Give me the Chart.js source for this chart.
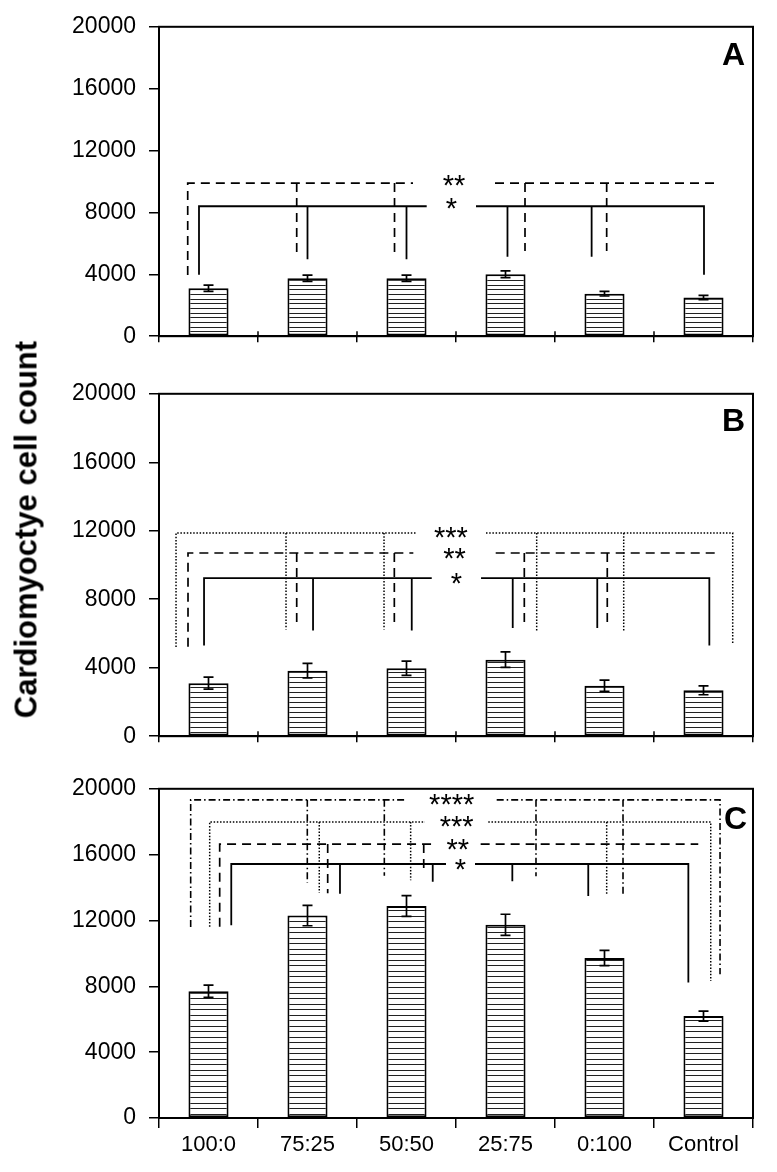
<!DOCTYPE html>
<html><head><meta charset="utf-8">
<script src="https://cdn.jsdelivr.net/npm/chart.js@4"></script>
<style>
html,body{margin:0;padding:0;background:#fff;}
body{width:777px;height:1172px;position:relative;overflow:hidden;}
canvas{position:absolute;left:0;}
#ytitle{position:absolute;left:-223.6px;top:511.5px;width:500px;height:35px;line-height:35px;text-align:center;font:bold 31px "Liberation Sans",Arial,sans-serif;transform:rotate(-90deg);color:#000;white-space:nowrap;}
</style></head><body>
<canvas id="cA" width="777" height="363" style="top:0px"></canvas>
<canvas id="cB" width="777" height="396" style="top:367px"></canvas>
<canvas id="cC" width="777" height="410" style="top:762px"></canvas>
<div id="ytitle">Cardiomyoctye cell count</div>
<script>
// ---------- data ----------
const categories = ['100:0', '75:25', '50:50', '25:75', '0:100', 'Control'];
const yTickValues = [0, 4000, 8000, 12000, 16000, 20000];
const panelLetters = ['A', 'B', 'C'];

const meansA = [3100, 3750, 3750, 4000, 2750, 2500];
const errA   = [200, 200, 200, 220, 150, 140];
const meansB = [3100, 3830, 3970, 4470, 2950, 2680];
const errB   = [350, 420, 420, 450, 330, 260];
const meansC = [7700, 12300, 12880, 11740, 9720, 6190];
const errC   = [370, 620, 630, 640, 460, 300];

// significance brackets: x in category units (0 = first category), y in cell counts
const sigLabelsA = ['**', '*'];
const sigLevelsA = [9900, 8400];
const sigDropsA = [
  [[-0.21, 3960], [0.891, 5390], [1.879, 5390], [3.197, 5510], [4.022, 5510]],
  [[-0.096, 3980], [1.0, 4970], [2.0, 4970], [3.02, 5140], [3.87, 5140], [5.005, 3980]]
];
const sigGapsA = [[2.066, 2.894], [2.204, 2.702]];
const sigEndsA = [5.106, 5.005];

const sigLabelsB = ['***', '**', '*'];
const sigLevelsB = [11870, 10700, 9230];
const sigDropsB = [
  [[-0.328, 5210], [0.783, 6230], [1.773, 6230], [3.315, 6130], [4.194, 6130], [5.295, 5360]],
  [[-0.207, 5230], [0.891, 6630], [1.877, 6630], [3.190, 6600], [4.028, 6600]],
  [[-0.045, 5300], [1.056, 6170], [2.053, 6170], [3.073, 6320], [3.927, 6320], [5.059, 5300]]
];
const sigGapsB = [[2.093, 2.803], [2.069, 2.901], [2.255, 2.753]];
const sigEndsB = [5.295, 5.116, 5.059];

const sigLabelsC = ['****', '***', '**', '*'];
const sigLevelsC = [19330, 17990, 16640, 15430];
const sigDropsC = [
  [[-0.180, 11610], [0.998, 14290], [1.776, 14720], [3.308, 14680], [4.187, 13590], [5.167, 8730]],
  [[0.012, 11620], [1.119, 13690], [2.042, 14440], [4.022, 13590], [5.073, 8330]],
  [[0.113, 11620], [1.204, 13650], [2.174, 14880]],
  [[0.230, 11710], [1.328, 13630], [2.265, 14350], [3.069, 14380], [3.836, 13490], [4.847, 8230]]
];
const sigGapsC = [[2.002, 2.911], [2.187, 2.826], [2.288, 2.749], [2.399, 2.692]];
const sigEndsC = [5.167, 5.073, 4.947, 4.847];

// ---------- styles ----------
const FONT = '"Liberation Sans", Arial, Helvetica, sans-serif';
const sigStyles = {
  '*':    {dash: [], width: 1.8},
  '**':   {dash: [9, 6], width: 1.7},
  '***':  {dash: [1.5, 1.7], width: 1.5},
  '****': {dash: [7, 3, 1.5, 3], width: 1.6}
};

function hatch(period, offsets) {
  const c = document.createElement('canvas');
  c.width = 8; c.height = period;
  const g = c.getContext('2d');
  g.fillStyle = '#fff'; g.fillRect(0, 0, 8, period);
  g.fillStyle = '#222';
  offsets.forEach(o => g.fillRect(0, o, 8, 1));
  return g.createPattern(c, 'repeat');
}

function bracketPoints(level, drops, gap, end) {
  const pts = [];
  const first = drops[0];
  pts.push({x: first[0], y: first[1]}, {x: first[0], y: level}, {x: gap[0], y: level}, {x: gap[0], y: null});
  pts.push({x: gap[1], y: level}, {x: end, y: level});
  const last = drops[drops.length - 1];
  let inner = drops.slice(1);
  if (Math.abs(last[0] - end) < 1e-6) {
    pts.push({x: end, y: last[1]});
    inner = drops.slice(1, -1);
  }
  pts.push({x: end, y: null});
  inner.forEach(d => {
    pts.push({x: d[0], y: level}, {x: d[0], y: d[1]}, {x: d[0], y: null});
  });
  return pts;
}

const errorBarPlugin = {
  id: 'errbars',
  afterDatasetsDraw(chart) {
    const ds = chart.data.datasets[0];
    const meta = chart.getDatasetMeta(0);
    const ys = chart.scales.y;
    const ctx = chart.ctx;
    ctx.save();
    ctx.strokeStyle = '#000';
    ctx.lineWidth = 1.7;
    meta.data.forEach((el, i) => {
      const top = ys.getPixelForValue(ds.data[i] + ds.errors[i]);
      const bot = ys.getPixelForValue(ds.data[i] - ds.errors[i]);
      ctx.beginPath();
      ctx.moveTo(el.x, top); ctx.lineTo(el.x, bot);
      ctx.moveTo(el.x - 5, top); ctx.lineTo(el.x + 5, top);
      ctx.moveTo(el.x - 5, bot); ctx.lineTo(el.x + 5, bot);
      ctx.stroke();
    });
    ctx.restore();
  }
};

const decorPlugin = {
  id: 'decor',
  afterDraw(chart) {
    const o = chart.config.options.decor;
    const ctx = chart.ctx;
    const a = chart.chartArea;
    const xl = chart.scales.xl;
    const ys = chart.scales.y;
    ctx.save();
    // stars
    ctx.fillStyle = '#000';
    ctx.font = '29px ' + FONT;
    ctx.textAlign = 'center';
    ctx.textBaseline = 'alphabetic';
    chart.data.datasets.forEach(ds => {
      if (!ds.starText) return;
      const m = ctx.measureText(ds.starText);
      const asc = m.actualBoundingBoxAscent, desc = m.actualBoundingBoxDescent;
      const cy = ys.getPixelForValue(ds.starLevel) + o.starDy;
      const base = cy - (desc - asc) / 2;
      ctx.fillText(ds.starText, xl.getPixelForValue(ds.starX), base);
    });
    // box
    ctx.strokeStyle = '#000';
    ctx.lineWidth = 2;
    ctx.strokeRect(a.left, a.top, a.right - a.left, a.bottom - a.top);
    // inner x ticks
    if (o.innerTicks) {
      ctx.lineWidth = 1.5;
      ctx.beginPath();
      for (let k = 1; k < categories.length; k++) {
        const px = xl.getPixelForValue(k - 0.5);
        ctx.moveTo(px, a.bottom - 5); ctx.lineTo(px, a.bottom);
      }
      ctx.stroke();
    }
    // panel letter
    ctx.font = 'bold 32px ' + FONT;
    ctx.textAlign = 'right';
    ctx.fillText(o.letter, a.right - o.letterDx, a.top + o.letterDy);
    ctx.restore();
  }
};

function makeChart(id, means, errs, labels, levels, drops, gaps, ends, p) {
  const datasets = [{
    type: 'bar', data: means, errors: errs,
    backgroundColor: hatch(p.hatchPeriod, p.hatchOffsets),
    borderColor: '#000', borderWidth: 2, borderSkipped: false,
    barPercentage: 0.405, categoryPercentage: 1, grouped: false,
    xAxisID: 'x', yAxisID: 'y', order: 2
  }];
  labels.forEach((lab, i) => {
    const st = sigStyles[lab];
    datasets.push({
      type: 'line', data: bracketPoints(levels[i], drops[i], gaps[i], ends[i]),
      xAxisID: 'xl', yAxisID: 'y', borderColor: '#000', borderWidth: st.width,
      borderDash: st.dash, pointRadius: 0, fill: false, tension: 0, spanGaps: false,
      order: 1, starText: lab, starLevel: levels[i], starX: (gaps[i][0] + gaps[i][1]) / 2
    });
  });
  return new Chart(document.getElementById(id), {
    type: 'bar',
    data: {labels: categories, datasets},
    plugins: [errorBarPlugin, decorPlugin],
    options: {
      responsive: false, animation: false,
      layout: {padding: {top: p.padTop, left: 0, right: 24, bottom: 0}},
      plugins: {legend: {display: false}, tooltip: {enabled: false}},
      decor: {letter: p.letter, letterDx: p.letterDx, letterDy: p.letterDy, starDy: p.starDy, innerTicks: p.innerTicks},
      scales: {
        x: {
          type: 'category', offset: true,
          ticks: {display: p.showLabels, color: '#000', font: {family: FONT, size: 22}, padding: 4, maxRotation: 0},
          grid: {offset: true, drawOnChartArea: false, drawTicks: true, tickLength: p.tickLen, color: '#000', lineWidth: 1.5},
          border: {display: true, color: '#000', width: 2},
          afterFit: s => { s.height = p.xHeight; }
        },
        xl: {type: 'linear', display: false, offset: false, grace: 0, min: -0.5, max: 5.5},
        y: {
          min: 0, max: 20000,
          afterBuildTicks: s => { s.ticks = yTickValues.map(v => ({value: v})); },
          afterFit: s => { s.width = 159; },
          ticks: {color: '#000', font: {family: FONT, size: 23}, padding: 13, callback: v => String(v)},
          grid: {drawOnChartArea: false, drawTicks: true, tickLength: 10, color: '#000', lineWidth: 1.5},
          border: {display: true, color: '#000', width: 2}
        }
      }
    }
  });
}

makeChart('cA', meansA, errA, sigLabelsA, sigLevelsA, sigDropsA, sigGapsA, sigEndsA,
  {letter: panelLetters[0], padTop: 24, xHeight: 16, showLabels: false, tickLen: 6, innerTicks: true,
   hatchPeriod: 14, hatchOffsets: [0, 5, 9], letterDx: 8, letterDy: 38, starDy: -3});
makeChart('cB', meansB, errB, sigLabelsB, sigLevelsB, sigDropsB, sigGapsB, sigEndsB,
  {letter: panelLetters[1], padTop: 20, xHeight: 16, showLabels: false, tickLen: 6, innerTicks: true,
   hatchPeriod: 5, hatchOffsets: [0], letterDx: 8, letterDy: 37, starDy: 0});
makeChart('cC', meansC, errC, sigLabelsC, sigLevelsC, sigDropsC, sigGapsC, sigEndsC,
  {letter: panelLetters[2], padTop: 20, xHeight: 54, showLabels: true, tickLen: 10, innerTicks: false,
   hatchPeriod: 11, hatchOffsets: [0, 5], letterDx: 6, letterDy: 40, starDy: 0});
</script>
</body></html>
